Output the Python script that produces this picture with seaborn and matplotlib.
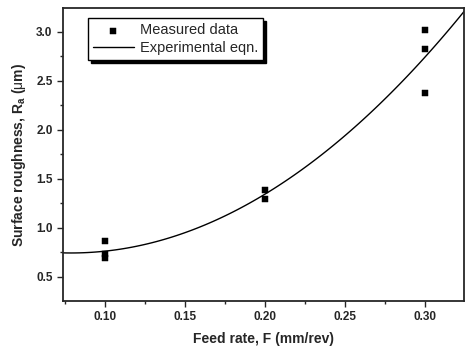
import matplotlib
matplotlib.use('Agg')
import matplotlib.pyplot as plt
import seaborn as sns
import pandas as pd
from matplotlib.ticker import AutoMinorLocator

feed = [0.10, 0.10, 0.10, 0.20, 0.20, 0.30, 0.30, 0.30]
ra = [0.87, 0.73, 0.69, 1.39, 1.30, 3.02, 2.83, 2.38]
x_ticks = [0.10, 0.15, 0.20, 0.25, 0.30]
y_ticks = [0.5, 1.0, 1.5, 2.0, 2.5, 3.0]

df = pd.DataFrame({'feed': feed, 'ra': ra})

sns.set_style('ticks')
plt.rcParams['font.family'] = ['Liberation Sans', 'DejaVu Sans']
plt.rcParams['mathtext.fontset'] = 'custom'
plt.rcParams['mathtext.rm'] = 'Liberation Sans'
plt.rcParams['mathtext.it'] = 'Liberation Sans'
plt.rcParams['mathtext.bf'] = 'Liberation Sans:bold'

fig = plt.figure(figsize=(4.72, 3.47), dpi=100)
ax = fig.add_axes([0.1335, 0.1326, 0.8495, 0.8444])
ax.set_xlim(0.0738, 0.3244)
ax.set_ylim(0.255, 3.245)

# experimental eqn: 2nd order fit, drawn across the full axis
sns.regplot(data=df, x='feed', y='ra', order=2, ci=None, truncate=False,
            scatter=False, ax=ax, line_kws={'color': 'black', 'lw': 1.0},
            label='Experimental eqn.')
sns.scatterplot(data=df, x='feed', y='ra', marker='s', s=18, color='black',
                edgecolor='black', ax=ax, label='Measured data', zorder=3)

ax.set_xticks(x_ticks)
ax.set_yticks(y_ticks)
ax.xaxis.set_minor_locator(AutoMinorLocator(2))
ax.yaxis.set_minor_locator(AutoMinorLocator(2))
ax.tick_params(which='major', direction='out', length=4, width=1,
               labelsize=8.5, top=False, right=False)
ax.tick_params(which='minor', direction='out', length=2, width=1,
               top=False, right=False)
for lab in ax.get_xticklabels() + ax.get_yticklabels():
    lab.set_fontweight('bold')
for sp in ax.spines.values():
    sp.set_linewidth(1.3)
    sp.set_visible(True)

ax.set_xlabel('Feed rate, F (mm/rev)', fontsize=10, fontweight='bold',
              labelpad=6)
ax.set_ylabel(r'Surface roughness, R$_{\mathbf{a}}$ ($\mu$m)', fontsize=10,
              fontweight='bold', labelpad=6)

handles, labels = ax.get_legend_handles_labels()
order = [labels.index('Measured data'), labels.index('Experimental eqn.')]
leg = ax.legend([handles[i] for i in order], [labels[i] for i in order],
                loc='upper left', bbox_to_anchor=(0.062, 0.965),
                borderaxespad=0, fontsize=10.5,
                frameon=True, fancybox=False,
                shadow={'color': 'black', 'alpha': 1, 'ox': 2, 'oy': -2},
                edgecolor='black', framealpha=1, borderpad=0.35,
                handlelength=2.8, handletextpad=0.4, labelspacing=0.25)
leg.get_frame().set_linewidth(1.0)

plt.savefig('out.png', dpi=100)
